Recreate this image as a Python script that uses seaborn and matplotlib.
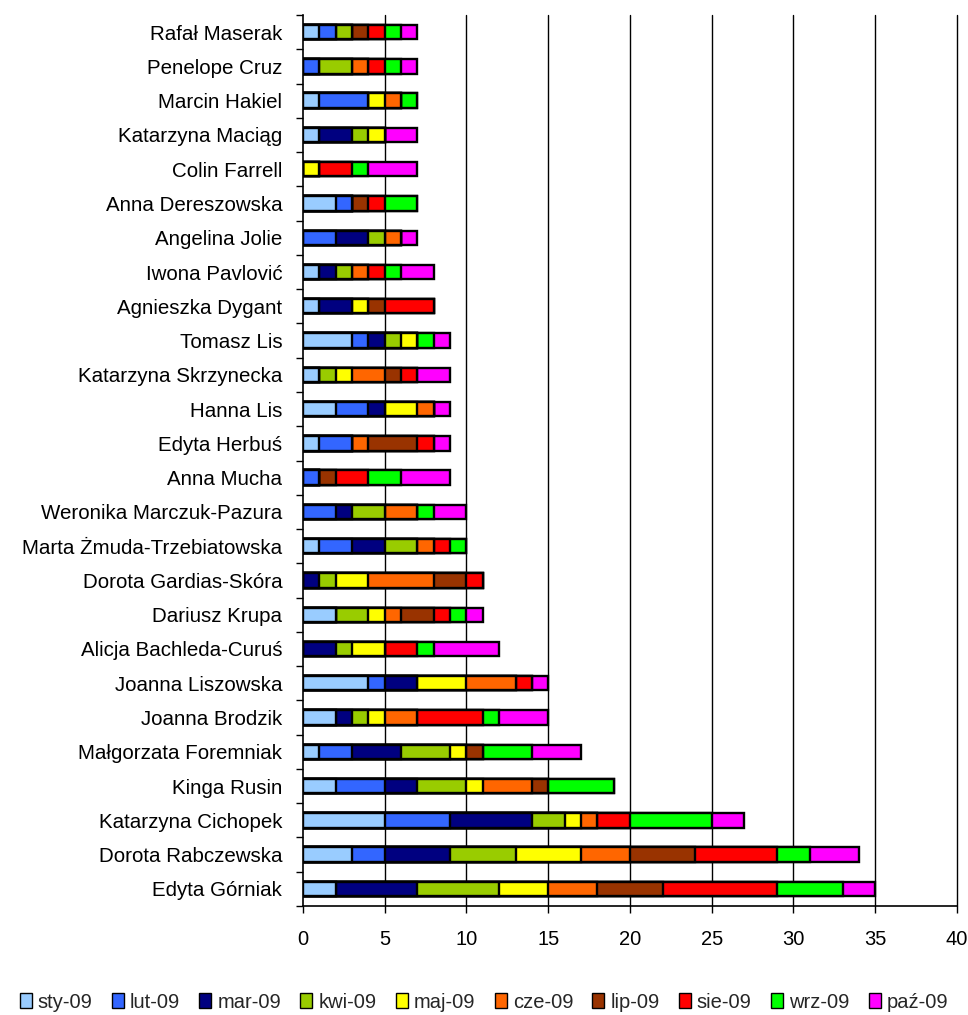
import numpy as np
import pandas as pd
import matplotlib
matplotlib.use("Agg")
import matplotlib.pyplot as plt
from matplotlib.patches import Patch
import seaborn as sns

# names listed from top bar to bottom bar
names = [
    "Rafał Maserak", "Penelope Cruz", "Marcin Hakiel", "Katarzyna Maciąg",
    "Colin Farrell", "Anna Dereszowska", "Angelina Jolie", "Iwona Pavlović",
    "Agnieszka Dygant", "Tomasz Lis", "Katarzyna Skrzynecka", "Hanna Lis",
    "Edyta Herbuś", "Anna Mucha", "Weronika Marczuk-Pazura",
    "Marta Żmuda-Trzebiatowska", "Dorota Gardias-Skóra", "Dariusz Krupa",
    "Alicja Bachleda-Curuś", "Joanna Liszowska", "Joanna Brodzik",
    "Małgorzata Foremniak", "Kinga Rusin", "Katarzyna Cichopek",
    "Dorota Rabczewska", "Edyta Górniak",
]

months = ["sty-09", "lut-09", "mar-09", "kwi-09", "maj-09",
          "cze-09", "lip-09", "sie-09", "wrz-09", "paź-09"]

sty = [1, 0, 1, 1, 0, 2, 0, 1, 1, 3, 1, 2, 1, 0, 0, 1, 0, 2, 0, 4, 2, 1, 2, 5, 3, 2]
lut = [1, 1, 3, 0, 0, 1, 2, 0, 0, 1, 0, 2, 2, 1, 2, 2, 0, 0, 0, 1, 0, 2, 3, 4, 2, 0]
mar = [0, 0, 0, 2, 0, 0, 2, 1, 2, 1, 0, 1, 0, 0, 1, 2, 1, 0, 2, 2, 1, 3, 2, 5, 4, 5]
kwi = [1, 2, 0, 1, 0, 0, 1, 1, 0, 1, 1, 0, 0, 0, 2, 2, 1, 2, 1, 0, 1, 3, 3, 2, 4, 5]
maj = [0, 0, 1, 1, 1, 0, 0, 0, 1, 1, 1, 2, 0, 0, 0, 0, 2, 1, 2, 3, 1, 1, 1, 1, 4, 3]
cze = [0, 1, 1, 0, 0, 0, 1, 1, 0, 0, 2, 1, 1, 0, 2, 1, 4, 1, 0, 3, 2, 0, 3, 1, 3, 3]
lip = [1, 0, 0, 0, 0, 1, 0, 0, 1, 0, 1, 0, 3, 1, 0, 0, 2, 2, 0, 0, 0, 1, 1, 0, 4, 4]
sie = [1, 1, 0, 0, 2, 1, 0, 1, 3, 0, 1, 0, 1, 2, 0, 1, 1, 1, 2, 1, 4, 0, 0, 2, 5, 7]
wrz = [1, 1, 1, 0, 1, 2, 0, 1, 0, 1, 0, 0, 0, 2, 1, 1, 0, 1, 1, 0, 1, 3, 4, 5, 2, 4]
paz = [1, 1, 0, 2, 3, 0, 1, 2, 0, 1, 2, 1, 1, 3, 2, 0, 0, 1, 4, 1, 3, 3, 0, 2, 3, 2]

colors = ["#99CCFF", "#3366FF", "#000080", "#99CC00", "#FFFF00",
          "#FF6600", "#993300", "#FF0000", "#00FF00", "#FF00FF"]

series = [sty, lut, mar, kwi, maj, cze, lip, sie, wrz, paz]
cum = np.cumsum(np.array(series), axis=0)

sns.set_theme(style="white")
plt.rcParams["font.family"] = ["Liberation Sans", "DejaVu Sans"]

fig = plt.figure(figsize=(9.68, 10.15), dpi=100)
ax = fig.add_axes([0.313, 0.1074, 0.6756, 0.8778])

# stacked look: draw cumulative totals from the last month back to the first
for i in range(len(months) - 1, -1, -1):
    df = pd.DataFrame({"name": names, "value": cum[i]})
    sns.barplot(data=df, x="value", y="name", order=names, orient="h",
                color=colors[i], saturation=1, width=0.42,
                edgecolor="black", linewidth=1.7, ax=ax, zorder=3)

ax.set_xlim(0, 40)
ax.set_ylim(len(names) - 0.5, -0.5)
ax.set_xticks(range(0, 41, 5))
ax.yaxis.grid(False)
ax.xaxis.grid(False)
for xv in range(5, 41, 5):
    ax.axvline(xv, color="black", linewidth=1.0, zorder=0, clip_on=False)
ax.set_xlabel("")
ax.set_ylabel("")

for side in ["top", "right"]:
    ax.spines[side].set_visible(False)
for side in ["left", "bottom"]:
    ax.spines[side].set_color("black")
    ax.spines[side].set_linewidth(1.2)

ax.tick_params(axis="x", labelsize=14.5, length=5, width=1.0,
               direction="out", bottom=True, colors="black", pad=12)
ax.tick_params(axis="y", which="major", labelsize=14.8, length=0, pad=15,
               colors="black")
ax.set_yticks(np.arange(-0.5, len(names) + 0.5, 1), minor=True)
ax.tick_params(axis="y", which="minor", length=5, width=1.0,
               direction="out", left=True, color="black")

handles = [Patch(facecolor=c, edgecolor="black", linewidth=1.0, label=m)
           for c, m in zip(colors, months)]
fig.legend(handles=handles, loc="center", bbox_to_anchor=(0.5, 0.0128),
           ncol=10, frameon=False, fontsize=14.5, handlelength=0.6,
           handleheight=0.75, handletextpad=0.3, columnspacing=0.95,
           borderaxespad=0)

fig.savefig("out.png", dpi=100)
